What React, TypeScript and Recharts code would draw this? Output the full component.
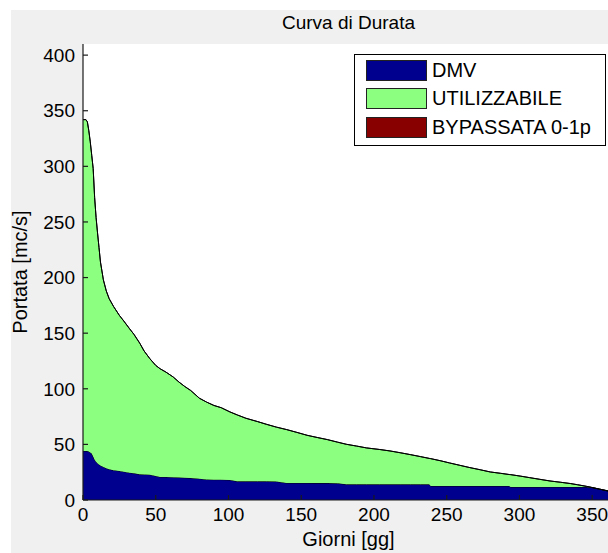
import React from 'react';
import { AreaChart, Area, XAxis, YAxis, CartesianGrid, Legend } from 'recharts';

// Giorni (durata) sampled along the duration curve
const days = [
  0, 2, 3, 4, 5, 6, 7, 8, 9, 10, 11, 12, 14, 16, 18, 21, 25, 28, 32, 35, 39, 42, 46, 50, 53, 57,
  62, 66, 70, 74, 80, 85, 90, 95, 101, 106, 112, 120, 126, 133, 140, 147, 154, 161, 168, 175,
  181, 188, 195, 204, 211, 218, 225, 232, 238, 239, 246, 252, 259, 266, 273, 280, 287, 293,
  294, 301, 307, 314, 321, 328, 335, 340, 346, 350, 355, 361, 365,
];

// Portata totale (top of the stacked curve) [mc/s]
const portataTotale = [
  342, 342, 340, 332, 322, 310, 298, 272, 254, 240, 227, 214, 198, 188, 181, 174, 166, 161, 154,
  149, 141, 134, 127, 121, 118, 115, 110.6, 106, 102, 98.5, 91.5, 88, 85, 83, 79.2, 76.5, 73.5,
  70.5, 68.1, 65.5, 63.3, 60.8, 58.2, 56.2, 54.3, 52, 50.1, 48.5, 46.8, 45.4, 44.1, 42.5, 40.8,
  39, 37.4, 37.2, 35.2, 33.3, 31.2, 29.1, 27.2, 25.2, 24, 22.9, 22.8, 21.4, 20.1, 18.6, 17.1,
  16, 14.8, 13.7, 12.3, 11.2, 9.8, 8.1, 7.5,
];

// DMV (deflusso minimo vitale) [mc/s]
const dmv = [
  44.1, 44.0, 44.0, 43.5, 42.8, 41.7, 39.0, 36.2, 34.5, 33.0, 32.0, 31.0, 29.7, 28.5, 27.6, 26.8,
  26.1, 25.5, 24.6, 24.0, 23.1, 23.0, 22.8, 21.6, 20.7, 20.7, 20.5, 20.2, 20.0, 19.7, 19.2, 18.4,
  18.3, 18.3, 18.0, 16.8, 16.8, 16.8, 16.8, 16.6, 15.3, 15.3, 15.3, 15.2, 15.2, 15.0, 14.1, 14.1,
  14.1, 14.1, 14.1, 14.1, 14.1, 14.1, 14.1, 12.6, 12.6, 12.6, 12.6, 12.6, 12.6, 12.6, 12.6, 12.6,
  11.7, 11.7, 11.7, 11.7, 11.7, 11.7, 11.7, 11.7, 11.7, 11.2, 9.8, 8.1, 7.5,
];

// Bypassata 0-1p (not visible in the picture: zero everywhere)
const bypassata = [
  0, 0, 0, 0, 0, 0, 0, 0, 0, 0, 0, 0, 0, 0, 0, 0, 0, 0, 0, 0, 0, 0, 0, 0, 0, 0,
  0, 0, 0, 0, 0, 0, 0, 0, 0, 0, 0, 0, 0, 0, 0, 0, 0, 0, 0, 0,
  0, 0, 0, 0, 0, 0, 0, 0, 0, 0, 0, 0, 0, 0, 0, 0, 0, 0,
  0, 0, 0, 0, 0, 0, 0, 0, 0, 0, 0, 0, 0,
];

const xTicks = [0, 50, 100, 150, 200, 250, 300, 350];
const yTicks = [0, 50, 100, 150, 200, 250, 300, 350, 400];

const seriesKeys = ['dmv', 'utilizzabile', 'bypassata'];
const seriesNames = ['DMV', 'UTILIZZABILE', 'BYPASSATA 0-1p'];
const seriesColors = ['#00008F', '#8CFF80', '#880000'];

const data = days.map((d, i) => ({
  giorno: d,
  dmv: dmv[i],
  utilizzabile: Math.max(0, +(portataTotale[i] - dmv[i]).toFixed(2)),
  bypassata: bypassata[i],
}));

const FONT = '"Liberation Sans", Arial, Helvetica, sans-serif';
const AX = '#1a1a1a';

const LegendBox = (props: any) => {
  const payload = [...(props.payload || [])].sort(
    (a: any, b: any) => seriesKeys.indexOf(a.dataKey) - seriesKeys.indexOf(b.dataKey)
  );
  return (
    <div
      style={{
        position: 'relative',
        width: 252,
        height: 92,
        boxSizing: 'border-box',
        border: '1px solid #000',
        background: '#fff',
        fontFamily: FONT,
      }}
    >
      {payload.map((entry: any, i: number) => {
        const idx = seriesKeys.indexOf(entry.dataKey);
        return (
          <div
            key={String(entry.dataKey)}
            style={{
              position: 'absolute',
              left: 11,
              top: 5 + i * 28.3,
              height: 21,
              display: 'flex',
              alignItems: 'center',
            }}
          >
            <div
              style={{
                width: 61,
                height: 21,
                boxSizing: 'border-box',
                border: '1px solid #222',
                background: seriesColors[idx],
              }}
            />
            <span
              style={{
                marginLeft: 5,
                fontSize: 20,
                lineHeight: '21px',
                color: '#000',
                whiteSpace: 'nowrap',
              }}
            >
              {entry.value}
            </span>
          </div>
        );
      })}
    </div>
  );
};

export default function App() {
  return (
    <div
      style={{
        position: 'fixed',
        left: 0,
        top: 0,
        width: 608,
        height: 553,
        overflow: 'hidden',
        background: '#fff',
        fontFamily: FONT,
      }}
    >
      <div style={{ position: 'absolute', left: 11, top: 10, right: 0, bottom: 0, background: '#f0f0f0' }} />
      <div
        style={{
          position: 'absolute',
          left: 83,
          top: 13,
          width: 531,
          textAlign: 'center',
          fontSize: 19,
          lineHeight: '19px',
          color: '#000',
          whiteSpace: 'nowrap',
        }}
      >
        Curva di Durata
      </div>
      <div style={{ position: 'absolute', left: 0, top: 0 }}>
        <AreaChart
          width={630}
          height={553}
          data={data}
          margin={{ top: 44, right: 16, bottom: 0, left: 0 }}
        >
          <CartesianGrid horizontal={false} vertical={false} fill="#ffffff" fillOpacity={1} stroke="none" />
          <XAxis
            dataKey="giorno"
            type="number"
            domain={[0, 365]}
            ticks={xTicks}
            interval={0}
            allowDataOverflow
            height={53}
            tickSize={-5}
            tickMargin={13}
            stroke={AX}
            strokeWidth={1.2}
            tick={{ fill: '#000', fontSize: 19 }}
            label={{
              content: (p: any) => {
                const vb = p.viewBox || { x: 83, width: 531 };
                return (
                  <text x={vb.x + vb.width / 2} y={546} textAnchor="middle" fontSize={20} fill="#000">
                    Giorni [gg]
                  </text>
                );
              },
            }}
          />
          <XAxis
            xAxisId="top"
            orientation="top"
            type="number"
            domain={[0, 365]}
            ticks={xTicks}
            interval={0}
            allowDataOverflow
            height={0}
            tickSize={-5}
            tick={false}
            stroke={AX}
            strokeWidth={1.2}
          />
          <YAxis
            type="number"
            domain={[0, 410]}
            ticks={yTicks}
            interval={0}
            allowDataOverflow
            width={83}
            tickSize={-5}
            tickMargin={13}
            stroke={AX}
            strokeWidth={1.2}
            tick={{ fill: '#000', fontSize: 19 }}
            label={{
              content: (p: any) => {
                const vb = p.viewBox || { y: 44, height: 456 };
                const cy = vb.y + vb.height / 2;
                return (
                  <text
                    x={27}
                    y={cy}
                    transform={`rotate(-90, 27, ${cy})`}
                    textAnchor="middle"
                    fontSize={20}
                    fill="#000"
                  >
                    Portata [mc/s]
                  </text>
                );
              },
            }}
          />
          <YAxis
            yAxisId="right"
            orientation="right"
            type="number"
            domain={[0, 410]}
            ticks={yTicks}
            interval={0}
            width={0}
            tickSize={-5}
            tick={false}
            stroke={AX}
            strokeWidth={1.2}
          />
          <Legend
            layout="vertical"
            align="center"
            verticalAlign="middle"
            wrapperStyle={{ left: 354, top: 54, width: 252, height: 92 }}
            content={<LegendBox />}
          />
          {seriesKeys.map((k, i) => (
            <Area
              key={k}
              type="linear"
              dataKey={k}
              name={seriesNames[i]}
              stackId="1"
              stroke="#000"
              strokeWidth={1}
              fill={seriesColors[i]}
              fillOpacity={1}
              isAnimationActive={false}
              dot={false}
              activeDot={false}
            />
          ))}
        </AreaChart>
      </div>
    </div>
  );
}
